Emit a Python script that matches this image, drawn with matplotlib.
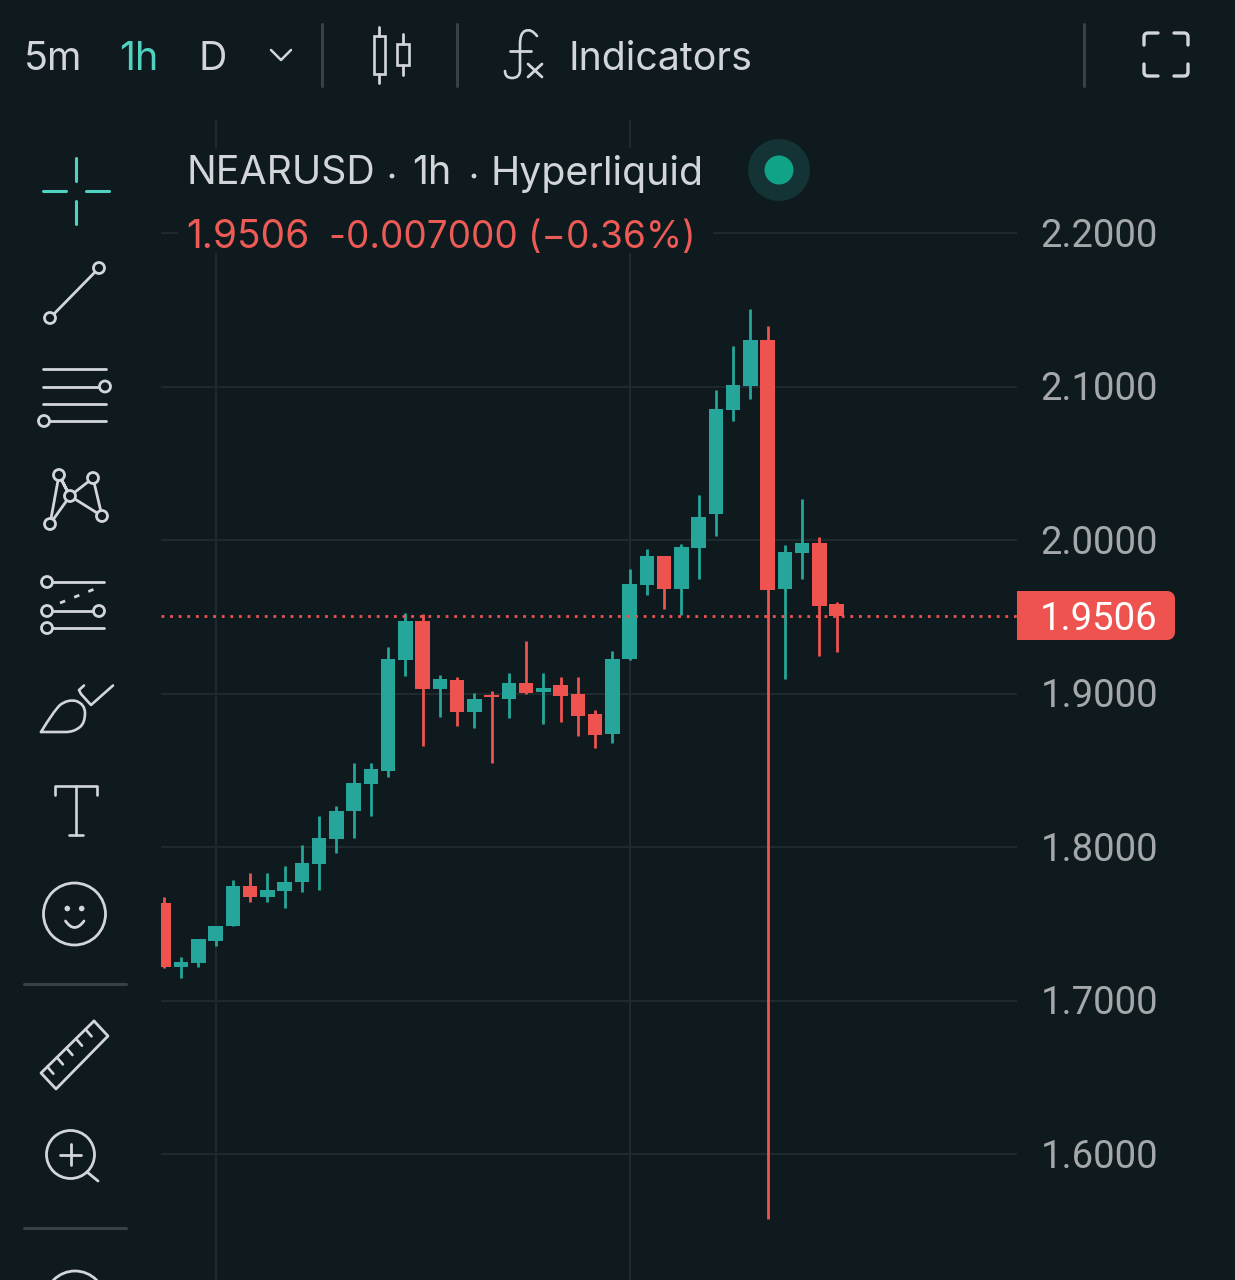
import numpy as np

import matplotlib

# set backend to non GUI
matplotlib.use("Agg")
import matplotlib.pyplot as plt
from matplotlib.patches import Circle, Ellipse, FancyBboxPatch, PathPatch, Rectangle
from matplotlib.path import Path
from matplotlib.transforms import ScaledTranslation

plt.rcParams["font.family"] = ["Inter", "DejaVu Sans"]

# hourly NEARUSD candles
opens = [1.7633, 1.7220, 1.7246, 1.7390, 1.7485, 1.7748, 1.7672, 1.7715, 1.7772, 1.7889,
         1.8052, 1.8233, 1.8412, 1.8493, 1.9218, 1.9472, 1.9029, 1.9086, 1.8881, 1.8992,
         1.8962, 1.9066, 1.9012, 1.9055, 1.8995, 1.8866, 1.8738, 1.9223, 1.9705, 1.9896,
         1.9681, 1.9948, 2.0169, 2.0847, 2.1003, 2.1303, 1.9679, 1.9917, 1.9980, 1.9581]
closes = [1.7220, 1.7251, 1.7399, 1.7487, 1.7748, 1.7672, 1.7720, 1.7774, 1.7894, 1.8057,
          1.8236, 1.8417, 1.8506, 1.9223, 1.9472, 1.9029, 1.9092, 1.8881, 1.8966, 1.8975,
          1.9066, 1.9005, 1.9036, 1.8986, 1.8855, 1.8730, 1.9223, 1.9715, 1.9896, 1.9681,
          1.9952, 2.0148, 2.0853, 2.1008, 2.1303, 1.9674, 1.9924, 1.9980, 1.9572, 1.9506]
highs = [1.7676, 1.7281, 1.7399, 1.7487, 1.7785, 1.7829, 1.7829, 1.7876, 1.8011, 1.8202,
         1.8267, 1.8545, 1.8545, 1.9305, 1.9526, 1.9518, 1.9122, 1.9106, 1.9005, 1.9016,
         1.9135, 1.9340, 1.9132, 1.9109, 1.9109, 1.8892, 1.9279, 1.9809, 1.9939, 1.9896,
         1.9972, 2.0295, 2.0977, 2.1264, 2.1503, 2.1396, 1.9967, 2.0265, 2.0018, 1.9598]
lows = [1.7212, 1.7145, 1.7220, 1.7357, 1.7485, 1.7640, 1.7640, 1.7601, 1.7707, 1.7720,
        1.7963, 1.8057, 1.8202, 1.8458, 1.9114, 1.8658, 1.8849, 1.8788, 1.8777, 1.8549,
        1.8842, 1.8997, 1.8801, 1.8812, 1.8725, 1.8643, 1.8679, 1.9218, 1.9642, 1.9549,
        1.9511, 1.9744, 2.0028, 2.0777, 2.0921, 1.5577, 1.9092, 1.9744, 1.9244, 1.9272]
price_ticks = [1.6, 1.7, 1.8, 1.9, 2.0, 2.1, 2.2]
time_ticks = [3, 27]
last_price = 1.9506

BG = "#0f1a1f"
GREEN = "#26a69a"
RED = "#ef5350"
GRID = "#1f2a2f"
TEAL = "#50d2c1"
ICON = "#d2d6da"
SEP = "#394147"
AXIS_TEXT = "#a4a8ab"

fig = plt.figure(figsize=(12.35, 12.80), dpi=100, facecolor=BG)

# candle chart
ax = fig.add_axes([161 / 1235, 0, (1017 - 161) / 1235, 1 - 120 / 1280], facecolor=BG)
ax.set_xlim(-0.165, 49.46)
ax.set_ylim(1.51792, 2.27362)

o, c, h, l = map(np.array, (opens, closes, highs, lows))
x = np.arange(len(o))
colors = [GREEN if b >= a else RED for a, b in zip(o, c)]
ax.vlines(x, l, h, colors=colors, linewidth=2.0, zorder=3)
ax.bar(x, np.abs(c - o), bottom=np.minimum(o, c), width=0.84, color=colors, zorder=4)
ax.axhline(last_price, color=RED, lw=2.0, ls=(0, (1, 2.1)), zorder=5)

ax.set_yticks(price_ticks)
ax.set_yticklabels([f"{p:.4f}" for p in price_ticks], family=["Roboto", "DejaVu Sans"])
ax.set_xticks(time_ticks)
ax.set_xticklabels([])
ax.yaxis.tick_right()
ax.tick_params(axis="both", length=0)
ax.tick_params(axis="y", labelsize=27.5, labelcolor=AXIS_TEXT, pad=17)
up_1px = ScaledTranslation(0, 1 / 100, fig.dpi_scale_trans)
for t in ax.get_yticklabels():
    t.set_transform(t.get_transform() + up_1px)
ax.grid(True, color=GRID, lw=1.5, zorder=0)
ax.set_axisbelow(True)
for s in ax.spines.values():
    s.set_visible(False)

# overlay in pixel coordinates for the toolbars and icons
ui = fig.add_axes([0, 0, 1, 1], facecolor="none")
ui.set_xlim(0, 1235)
ui.set_ylim(1280, 0)
ui.axis("off")


def line(xs, ys, color=ICON, lw=2.0, **kw):
    ui.plot(xs, ys, color=color, lw=lw, solid_capstyle="round", solid_joinstyle="round", **kw)


def ring(cx, cy, r=5.5, lw=2.0):
    ui.add_patch(Circle((cx, cy), r, fc=BG, ec=ICON, lw=lw, zorder=6))


def curve(verts, codes, lw=1.9, color=ICON):
    ui.add_patch(PathPatch(Path(verts, codes), fc="none", ec=color, lw=lw, capstyle="round", joinstyle="round"))


def label(px, py, s, color=ICON, size=28.3, ha="left"):
    ui.text(px, py, s, color=color, fontsize=size, ha=ha, va="center_baseline")


# top toolbar
label(24, 55, "5m")
label(119, 55, "1h", color=TEAL)
label(198, 55, "D")
line([271, 281, 291], [50, 60, 50], lw=1.8)
for sx in (322, 457, 1084):
    line([sx, sx], [24, 86], color=SEP, lw=2.2)
ui.add_patch(Rectangle((373.5, 36), 11.5, 38, fc="none", ec=ICON, lw=1.9))
line([379.3, 379.3], [27, 36])
line([379.3, 379.3], [74, 83])
ui.add_patch(Rectangle((396.5, 44), 12, 21, fc="none", ec=ICON, lw=1.9))
line([402.5, 402.5], [34, 44])
line([402.5, 402.5], [65, 75])
M, L, C3 = Path.MOVETO, Path.LINETO, Path.CURVE3
curve([(537, 36), (531, 28), (525, 31), (520, 33), (520, 44), (520, 70), (520, 78), (512, 78), (505, 78), (505, 71)],
      [M, C3, C3, C3, C3, L, C3, C3, C3, C3])
line([510, 531], [51, 51])
line([528, 542], [64, 77])
line([542, 528], [64, 77])
label(568, 55, "Indicators")
# fullscreen corners
for cx, cy, dx, dy in [(1144, 33, 1, 1), (1188, 33, -1, 1), (1144, 76, 1, -1), (1188, 76, -1, -1)]:
    curve([(cx, cy + 12 * dy), (cx, cy + 4 * dy), (cx, cy), (cx + 4 * dx, cy), (cx + 14 * dx, cy)],
          [M, L, C3, C3, L], lw=2.4)

# chart legend, it hides the grid behind it
ui.add_patch(Rectangle((178, 148), 535, 105, fc=BG, ec="none", zorder=1))
for px, s in [(186, "NEARUSD"), (412, "1h"), (491, "Hyperliquid")]:
    ui.text(px, 170, s, color=ICON, fontsize=28.3, ha="left", va="center_baseline", zorder=2)
for px in (392, 474):
    ui.add_patch(Circle((px, 176), 2.4, fc=ICON, ec="none", zorder=2))
ui.text(186, 234, "1.9506", color="#ec5b56", fontsize=28, ha="left", va="center_baseline", zorder=2)
ui.text(329, 234, "-0.007000 (\u22120.36%)", color="#ec5b56", fontsize=26.6, ha="left", va="center_baseline", zorder=2)
ui.add_patch(Circle((779, 170), 31, fc="#143335", ec="none"))
ui.add_patch(Circle((779, 170), 14.5, fc="#11a387", ec="none"))

# last price tag
ui.add_patch(FancyBboxPatch((1021, 595), 150, 41, boxstyle="round,pad=0,rounding_size=4", fc=RED, ec=RED, lw=8 * 0.72, joinstyle="round"))
ui.add_patch(Rectangle((1017, 591), 12, 49, fc=RED, ec="none"))
ui.text(1157, 616, f"{last_price:.4f}", color="white", fontsize=27.5, ha="right", va="center_baseline",
        family=["Roboto", "DejaVu Sans"])

# left toolbar: crosshair
line([76, 76], [158, 181], color=TEAL, lw=2.2)
line([76, 76], [201, 224], color=TEAL, lw=2.2)
line([43, 66], [191, 191], color=TEAL, lw=2.2)
line([86, 109], [191, 191], color=TEAL, lw=2.2)

# trend line
line([50, 99], [318, 268])
ring(99, 268)
ring(50, 318)

# parallel lines
line([43, 106], [369, 369])
line([43, 100], [386.5, 386.5])
line([43, 106], [404, 404])
line([44, 106], [421, 421])
ring(105, 386.5)
ring(44, 421)

# pattern
line([59, 50, 70, 59, 70, 93, 102, 70], [475, 524, 496, 475, 496, 478, 516, 496])
for px, py in [(59, 475), (93, 478), (70, 496), (50, 524), (102, 516)]:
    ring(px, py)

# fib
line([47, 104], [582, 582])
line([47, 99], [611, 611])
line([47, 104], [628, 628])
ui.plot([60, 97], [603, 588], color=ICON, lw=2.0, ls=(0, (2, 3.5)))
for px, py in [(47, 582), (47, 611), (99, 611), (47, 628)]:
    ring(px, py)

# brush
curve([(41, 732), (53, 712), (60, 705), (68, 699), (76, 701), (85, 704), (85, 713), (85, 723), (80, 727), (74, 732), (66, 732), (41, 732)],
      [M, C3, C3, C3, C3, C3, C3, C3, C3, C3, C3, L])
curve([(84, 685.5), (79, 690), (81, 694), (91, 705), (113, 685.5)], [M, L, L, L, L])

# text tool
line([55, 55, 97, 97], [795, 785.5, 785.5, 795], lw=1.9)
line([76, 76], [785.5, 835], lw=1.9)
line([69, 83], [835, 835], lw=1.9)

# smiley
ui.add_patch(Ellipse((74.5, 914), 62, 62, fc="none", ec=ICON, lw=2.0))
ui.add_patch(Circle((67.3, 908.5), 2.8, fc=ICON, ec="none"))
ui.add_patch(Circle((81.7, 908.5), 2.8, fc=ICON, ec="none"))
curve([(65.5, 921), (74.5, 934), (84, 921)], [M, C3, C3], lw=2.0)

line([24, 126], [984, 984], color=SEP, lw=2.2)

# ruler
line([94, 108, 56, 41, 94], [1021, 1036, 1089, 1073, 1021])
for t in [0.12, 0.3, 0.48, 0.66, 0.84]:
    px, py = 41 + (94 - 41) * t, 1073 + (1021 - 1073) * t
    line([px, px + 6], [py, py + 7], lw=1.9)

# zoom
ui.add_patch(Circle((70.5, 1154.5), 24, fc="none", ec=ICON, lw=2.0))
line([60, 81], [1154.5, 1154.5])
line([70.5, 70.5], [1144, 1165])
line([87, 98], [1172, 1181])

line([24, 126], [1228, 1228], color=SEP, lw=2.2)
ui.add_patch(Circle((75, 1301), 30, fc="none", ec=ICON, lw=2.0))

fig.savefig("out.png", dpi=100, facecolor=BG)
